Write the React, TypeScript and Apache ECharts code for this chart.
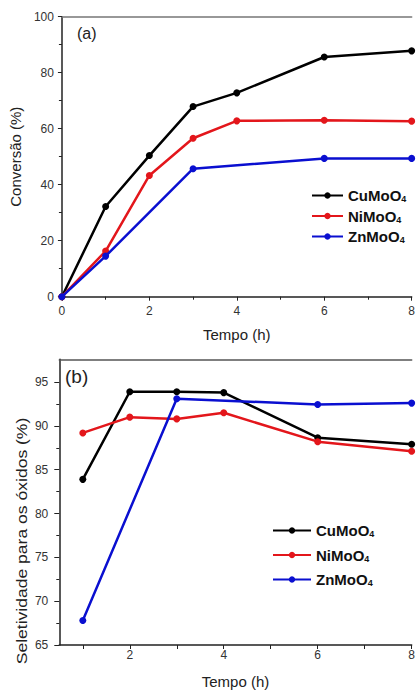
import React, { useEffect, useRef } from "react";
import * as echarts from "echarts";

// ---- (a) Conversão ----
const hoursA = [0, 1, 2, 3, 4, 6, 8];
const cuConv = [0, 32.2, 50.4, 67.9, 72.8, 85.6, 87.8];
const niConv = [0, 16.3, 43.3, 56.6, 62.8, 63.0, 62.7];
const hoursZnA = [0, 1, 3, 6, 8];
const znConv = [0, 14.5, 45.7, 49.4, 49.4];

// ---- (b) Seletividade ----
const hoursB = [1, 2, 3, 4, 6, 8];
const cuSel = [83.9, 93.9, 93.9, 93.8, 88.65, 87.9];
const niSel = [89.2, 91.0, 90.8, 91.5, 88.2, 87.1];
const hoursZnB = [1, 3, 6, 8];
const znSel = [67.8, 93.1, 92.45, 92.6];

const xTicksB = [1, 2, 3, 4, 5, 6, 7, 8];
const xLabelsB = [2, 4, 6, 8];
const yLabelsB = [65, 70, 75, 80, 85, 90, 95];
const yMinorB = [67.5, 72.5, 77.5, 82.5, 87.5, 92.5];

const names = ["CuMoO4", "NiMoO4", "ZnMoO4"];
const colors = ["#000000", "#e3161b", "#0a0fd0"];
const titleB = "Seletividade para os óxidos (%)";

const FONT = "'Liberation Sans', Arial, sans-serif";

const pairs = (xs: number[], ys: number[]) => xs.map((x, i) => [x, ys[i]]);

export default function App() {
  const ref = useRef<HTMLDivElement>(null);
  useEffect(() => {
    if (!ref.current) return;
    const chart = echarts.init(ref.current, undefined, { renderer: "svg" });
    const labelStyle = { color: "#333", fontSize: 12, fontFamily: FONT };
    const nameStyle = { color: "#222", fontSize: 15, fontFamily: FONT };
    const lineS = (name: string, i: number, data: number[][], ax: number) => ({
      type: "line",
      name,
      data,
      xAxisIndex: ax,
      yAxisIndex: ax === 0 ? 0 : 1,
      symbol: "circle",
      symbolSize: 7,
      color: colors[i],
      lineStyle: { width: 2.5, color: colors[i] },
      itemStyle: { color: colors[i] },
      z: 2 + i,
    });
    const legendCommon = {
      orient: "vertical",
      data: names,
      itemHeight: 8,
      formatter: (n: string) => n.replace(/(\d)$/, "{s|$1}"),
      textStyle: {
        fontSize: 15,
        fontWeight: "bold",
        color: "#111",
        fontFamily: FONT,
        rich: { s: { fontSize: 9, fontWeight: "bold", fontFamily: FONT, color: "#111", padding: [7, 0, 0, 0] } },
      },
      selectedMode: false,
    };
    chart.setOption({
      animation: false,
      grid: [
        { left: 61.7, top: 16.7, width: 354.3, height: 280 },
        { left: 59.3, top: 359.3, width: 358, height: 285.7 },
      ],
      xAxis: [
        {
          type: "value",
          gridIndex: 0,
          min: 0,
          max: 8,
          interval: 2,
          name: "Tempo (h)",
          nameLocation: "middle",
          nameGap: 30,
          nameTextStyle: nameStyle,
          axisLine: { lineStyle: { color: "#222", width: 1.5 } },
          axisTick: { show: true, inside: false, length: 4, lineStyle: { color: "#222" } },
          minorTick: { show: true, splitNumber: 2, length: 3, lineStyle: { color: "#222" } },
          axisLabel: { ...labelStyle, margin: 8 },
          splitLine: { show: false },
        },
        {
          type: "value",
          gridIndex: 1,
          min: 0.5,
          max: 8,
          name: "Tempo (h)",
          nameLocation: "middle",
          nameGap: 29,
          nameTextStyle: nameStyle,
          axisLine: { lineStyle: { color: "#222", width: 1.5 } },
          axisTick: { show: true, length: 4, customValues: xTicksB, lineStyle: { color: "#222" } },
          axisLabel: { ...labelStyle, margin: 4, customValues: xLabelsB },
          splitLine: { show: false },
        },
        {
          type: "value",
          gridIndex: 0,
          position: "top",
          min: 0,
          max: 8,
          axisLine: { show: true, lineStyle: { color: "#777", width: 1.5 } },
          axisTick: { show: false },
          axisLabel: { show: false },
          splitLine: { show: false },
        },
        {
          type: "value",
          gridIndex: 1,
          position: "top",
          min: 0.5,
          max: 8,
          axisLine: { show: true, lineStyle: { color: "#555", width: 1.5 } },
          axisTick: { show: false },
          axisLabel: { show: false },
          splitLine: { show: false },
        },
      ],
      yAxis: [
        {
          type: "value",
          gridIndex: 0,
          min: 0,
          max: 100,
          interval: 20,
          name: "Conversão (%)",
          nameLocation: "middle",
          nameGap: 35,
          nameTextStyle: nameStyle,
          axisLine: { show: true, lineStyle: { color: "#222", width: 1.5 } },
          axisTick: { show: true, length: 4, lineStyle: { color: "#222" } },
          minorTick: { show: true, splitNumber: 2, length: 3, lineStyle: { color: "#222" } },
          axisLabel: { ...labelStyle, margin: 8 },
          splitLine: { show: false },
        },
        {
          type: "value",
          gridIndex: 1,
          position: "left",
          min: 65,
          max: 97.6,
          axisLine: { show: true, lineStyle: { color: "#222", width: 1.5 } },
          axisTick: { show: true, length: 5, customValues: yLabelsB, lineStyle: { color: "#222" } },
          axisLabel: { ...labelStyle, margin: 11, customValues: yLabelsB },
          splitLine: { show: false },
        },
        {
          type: "value",
          gridIndex: 1,
          position: "left",
          offset: 0,
          min: 65,
          max: 97.6,
          axisLine: { show: false },
          axisTick: { show: true, length: 3, customValues: yMinorB, lineStyle: { color: "#222" } },
          axisLabel: { show: false },
          splitLine: { show: false },
        },
      ],
      legend: [
        { ...legendCommon, left: 306, top: 183, itemGap: 5, itemWidth: 31 },
        { ...legendCommon, left: 267, top: 518, itemGap: 9, itemWidth: 38 },
      ],
      graphic: [
        { type: "text", left: 77, top: 25, style: { text: "(a)", font: `16px ${FONT}`, fill: "#222" } },
        { type: "text", left: 65, top: 367, style: { text: "(b)", font: `19px ${FONT}`, fill: "#222" } },
        {
          type: "text",
          x: 21.7,
          y: 541,
          rotation: Math.PI / 2,
          scaleX: 1.17,
          style: {
            text: titleB,
            font: `15px ${FONT}`,
            fill: "#222",
            align: "center",
            verticalAlign: "middle",
            textAlign: "center",
            textVerticalAlign: "middle",
          },
        },
      ],
      series: [
        lineS(names[0], 0, pairs(hoursA, cuConv), 0),
        lineS(names[1], 1, pairs(hoursA, niConv), 0),
        lineS(names[2], 2, pairs(hoursZnA, znConv), 0),
        lineS(names[0], 0, pairs(hoursB, cuSel), 1),
        lineS(names[1], 1, pairs(hoursB, niSel), 1),
        lineS(names[2], 2, pairs(hoursZnB, znSel), 1),
      ],
    });
    return () => chart.dispose();
  }, []);
  return (
    <div
      ref={ref}
      style={{ position: "absolute", left: 0, top: 0, width: 418, height: 691, background: "#fff" }}
    />
  );
}
